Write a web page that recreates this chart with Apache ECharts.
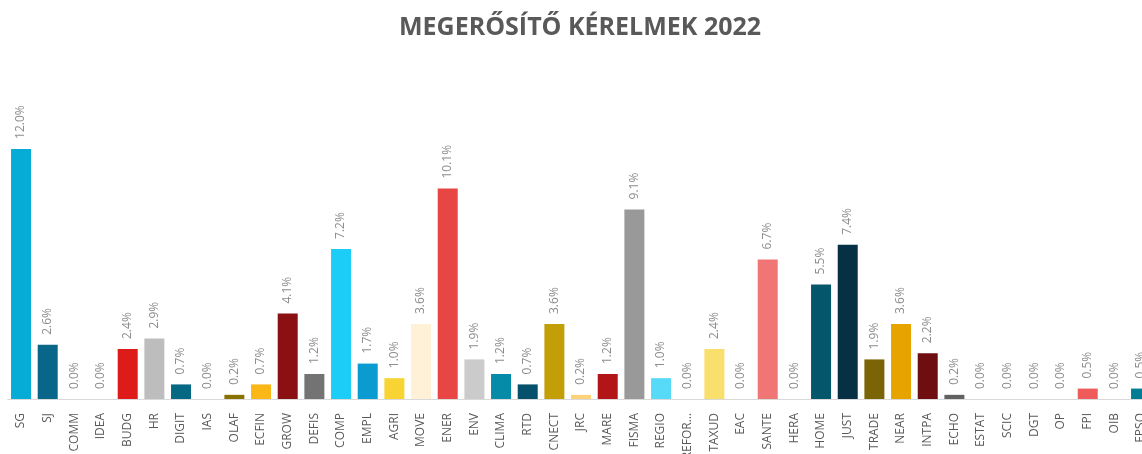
<!DOCTYPE html>
<html>
<head>
<meta charset="utf-8">
<script src="https://cdn.jsdelivr.net/npm/echarts@6/dist/echarts.min.js"></script>
<style>
html,body{margin:0;padding:0;background:#fff;}
#chart{width:1142px;height:454px;}
</style>
</head>
<body>
<div id="chart"></div>
<script>
const titleText = 'MEGERŐSÍTŐ KÉRELMEK 2022';
const categories = ['SG','SJ','COMM','IDEA','BUDG','HR','DIGIT','IAS','OLAF','ECFIN','GROW','DEFIS','COMP','EMPL','AGRI','MOVE','ENER','ENV','CLIMA','RTD','CNECT','JRC','MARE','FISMA','REGIO','REFOR…','TAXUD','EAC','SANTE','HERA','HOME','JUST','TRADE','NEAR','INTPA','ECHO','ESTAT','SCIC','DGT','OP','FPI','OIB','EPSO'];
const values = [12.0,2.6,0.0,0.0,2.4,2.9,0.7,0.0,0.2,0.7,4.1,1.2,7.2,1.7,1.0,3.6,10.1,1.9,1.2,0.7,3.6,0.2,1.2,9.1,1.0,0.0,2.4,0.0,6.7,0.0,5.5,7.4,1.9,3.6,2.2,0.2,0.0,0.0,0.0,0.0,0.5,0.0,0.5];
const colors = ['#07acd6','#0a6688','#cccccc','#cccccc','#dd1c1a','#bdbdbd','#066883','#cccccc','#887100','#fbb718','#8a1013','#737373','#1ccef7','#0a9bd0','#f7d433','#fff1d8','#e84545','#cbcbcb','#058ba8','#05506b','#c29f06','#fdd27a','#b11518','#999999','#57daf8','#cccccc','#f9df6b','#cccccc','#f07575','#cccccc','#04566b','#063144','#7a6405','#e7a300','#6e0e11','#616161','#cccccc','#cccccc','#cccccc','#cccccc','#ee5b5b','#cccccc','#027b94'];

const chart = echarts.init(document.getElementById('chart'), null, {renderer:'canvas'});
chart.setOption({
  animation:false,
  backgroundColor:'#ffffff',
  title:{
    text:titleText,
    left:394,
    top:10.5,
    textStyle:{fontFamily:'Open Sans',fontWeight:'bold',fontSize:25,color:'#595959'}
  },
  grid:{left:7.7,width:1146.7,top:107.3,bottom:55,containLabel:false,outerBoundsMode:'none'},
  xAxis:{
    type:'category',
    data:categories,
    boundaryGap:true,
    axisLine:{show:true,lineStyle:{color:'#d9d9d9',width:1}},
    axisTick:{show:false},
    axisLabel:{interval:0,rotate:90,margin:14,color:'#595959',fontFamily:'Open Sans',fontSize:12}
  },
  yAxis:{type:'value',min:0,max:14,show:false,splitLine:{show:false}},
  series:[{
    type:'bar',
    data:values.map((v,i)=>({value:v,itemStyle:{color:colors[i]}})),
    barWidth:20,
    label:{
      show:true,position:'top',rotate:90,align:'left',verticalAlign:'middle',distance:10,
      color:'#8c8c8c',fontFamily:'Open Sans',fontSize:12,
      formatter:p=>p.value.toFixed(1)+'%'
    }
  }]
});
</script>
</body>
</html>
